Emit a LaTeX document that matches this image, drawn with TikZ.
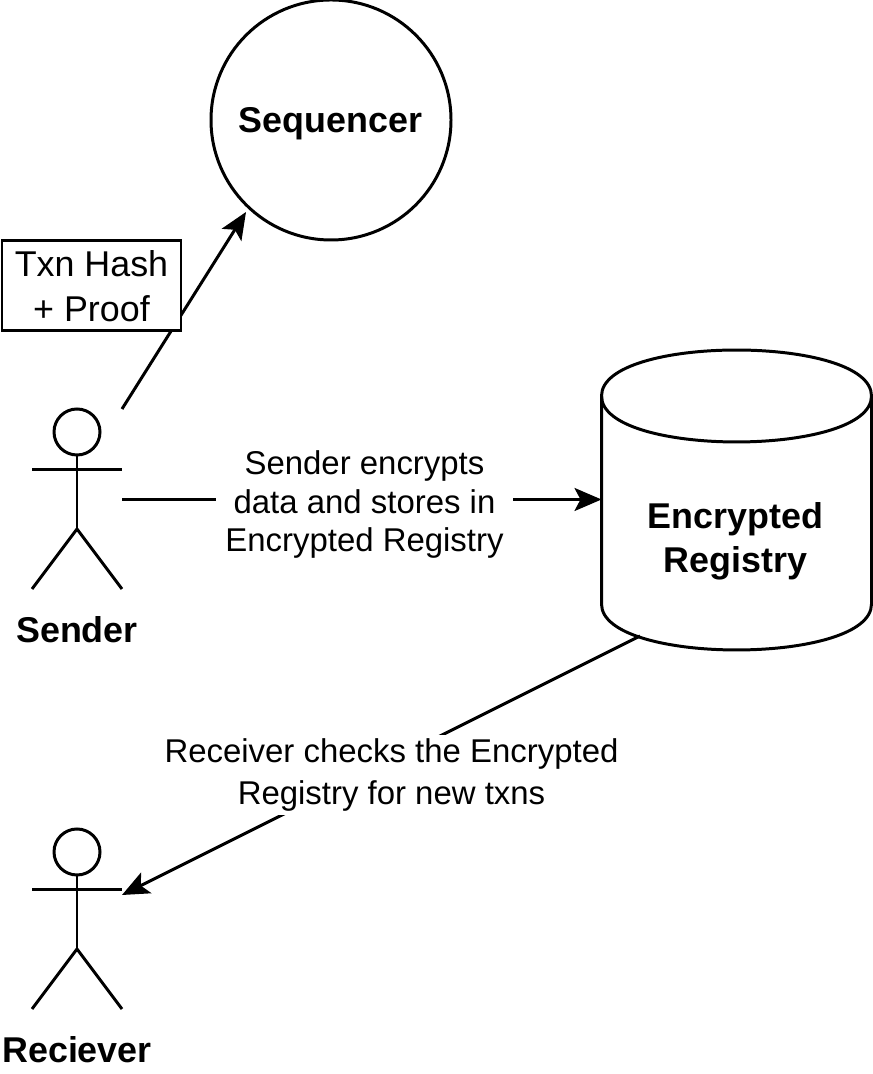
\documentclass[tikz,border=0pt]{standalone}
\usepackage{fontspec}
\setmainfont{Liberation Sans}
\usetikzlibrary{arrows.meta}
\tikzset{
  actorbox/.style={minimum width=0.9cm, minimum height=1.8cm, inner sep=0pt, outer sep=0pt},
  actorline/.style={line width=0.85pt},
  conn/.style={line width=0.85pt, -{Stealth[length=0.27cm, width=0.23cm, inset=0.06cm]}},
  bold/.style={font=\fontsize{10.2}{12.4}\selectfont\bfseries, align=center},
  plain/.style={font=\fontsize{9.37}{11.9}\selectfont, align=center, inner sep=1pt}
}
\begin{document}
\begin{tikzpicture}[line width=0.85pt]
\useasboundingbox (0,0) rectangle (8.73,10.74);

\node[circle, draw, minimum size=2.4cm, inner sep=0pt, outer sep=0pt] (sequencer) at (3.31,9.54) {};
\node[bold] (sequencerlabel) at (3.305,9.50) {Sequencer};

% registry
\node[minimum width=2.70cm, minimum height=3.0cm, inner sep=0pt, outer sep=0pt] (registry) at (7.365,5.74) {};
\draw ([yshift=-0.46cm]registry.north west)
  .. controls ([yshift=0.153cm]registry.north west) and ([yshift=0.153cm]registry.north east) .. ([yshift=-0.46cm]registry.north east)
  .. controls ([yshift=-1.073cm]registry.north east) and ([yshift=-1.073cm]registry.north west) .. cycle;
\draw ([yshift=-0.46cm]registry.north west) -- ([yshift=0.46cm]registry.south west)
  .. controls ([yshift=-0.153cm]registry.south west) and ([yshift=-0.153cm]registry.south east) .. ([yshift=0.46cm]registry.south east)
  -- ([yshift=-0.46cm]registry.north east);
\node[bold] (registrylabel) at (7.355,5.325) {Encrypted\\Registry};

\node[actorbox] (sender) at (0.77,5.75) {};
\node[actorbox] (receiver) at (0.77,1.55) {};
\node[bold] (senderlabel) at (0.77,4.44) {Sender};
\node[bold] (receiverlabel) at (0.77,0.24) {Reciever};

% actors
\foreach \who in {sender,receiver} {
  \draw[actorline] (\who.north) ++(0,-0.23) circle (0.23);
  \draw[actorline] (\who.north) ++(0,-0.46) -- ++(0,-0.74) coordinate (\who hip);
  \draw[actorline] (\who hip) -- (\who.south west);
  \draw[actorline] (\who hip) -- (\who.south east);
  \draw[actorline] (\who.north west) ++(0,-0.605) -- ++(0.9,0);
}

\coordinate (senderexit) at (1.22,5.745);
\coordinate (receiverentry) at (1.22,1.79);
\coordinate (registrybottom) at (6.40,4.38);
\coordinate (sequencerentry) at (2.46,8.62);

\draw[conn] (sender.north east) -- (sequencerentry);
\draw[conn] (senderexit) -- (registry.west |- senderexit);
\draw[conn] (registrybottom) -- (receiverentry);

\node[draw, fill=white, minimum width=1.79cm, minimum height=0.9cm, inner sep=0pt, font=\fontsize{10.2}{12.7}\selectfont, align=center] (txnbox) at (0.915,7.88) {Txn Hash\\+ Proof};
\node[fill=white, font=\fontsize{9.37}{11}\selectfont, align=center, inner sep=2.8pt] (storelabel) at (3.645,5.695) {Sender encrypts\\data and stores in\\Encrypted Registry};
\node[fill=white, plain, inner sep=1pt] (checklabel) at (3.915,2.99) {Receiver checks the Encrypted\\Registry for new txns};
\end{tikzpicture}
\end{document}
